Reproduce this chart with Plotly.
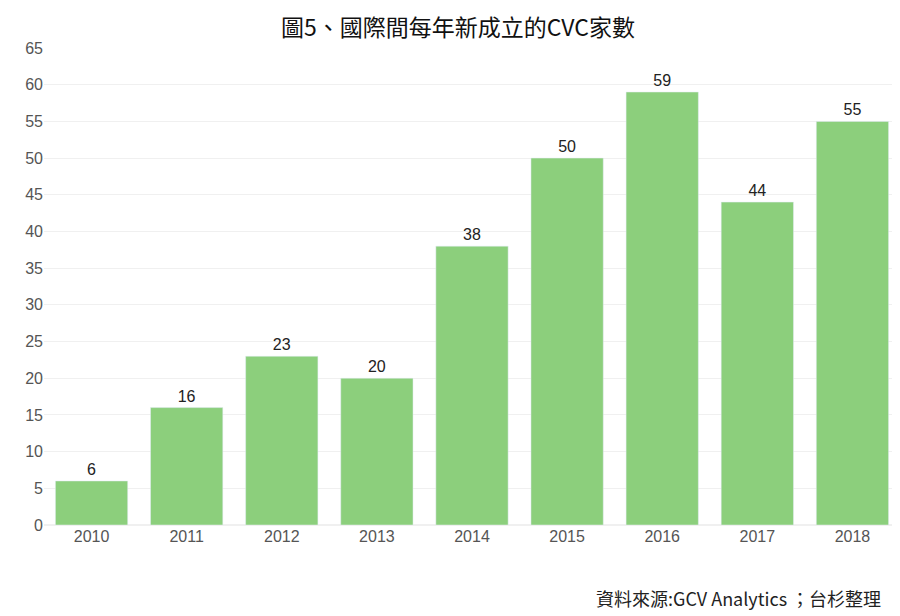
import plotly.graph_objects as go

years = ["2010", "2011", "2012", "2013", "2014", "2015", "2016", "2017", "2018"]
counts = [6, 16, 23, 20, 38, 50, 59, 44, 55]
y_ticks = list(range(0, 70, 5))

fig = go.Figure()
fig.add_trace(go.Bar(
    x=years, y=counts, marker_color="#8ccf7c", width=0.76,
    text=counts, textposition="outside",
    textfont=dict(size=16, color="#222222", family="Liberation Sans"),
    cliponaxis=False,
))

fig.update_layout(
    title=dict(text="圖5、國際間每年新成立的CVC家數", x=0.5, y=0.968, yanchor="middle",
               xanchor="center",
               font=dict(size=23, color="#111111", family="Noto Sans CJK TC")),
    width=900, height=616,
    margin=dict(l=36, r=8, t=40, b=99),
    plot_bgcolor="white", paper_bgcolor="white",
    showlegend=False,
    xaxis=dict(tickfont=dict(size=16, color="#555555", family="Liberation Sans"),
               showline=False, ticks=""),
    yaxis=dict(range=[0, 65], tickvals=y_ticks, showgrid=True, gridcolor="#f0f0f0",
               zeroline=True, zerolinecolor="#f0f0f0",
               tickfont=dict(size=16, color="#555555", family="Liberation Sans")),
    annotations=[dict(text="資料來源:GCV Analytics ；台杉整理", x=0.98, y=-0.185,
                      xref="paper", yref="paper", xanchor="right", showarrow=False,
                      font=dict(size=18, color="#222222", family="Noto Sans CJK TC"))],
)

fig.write_html("out.html")
